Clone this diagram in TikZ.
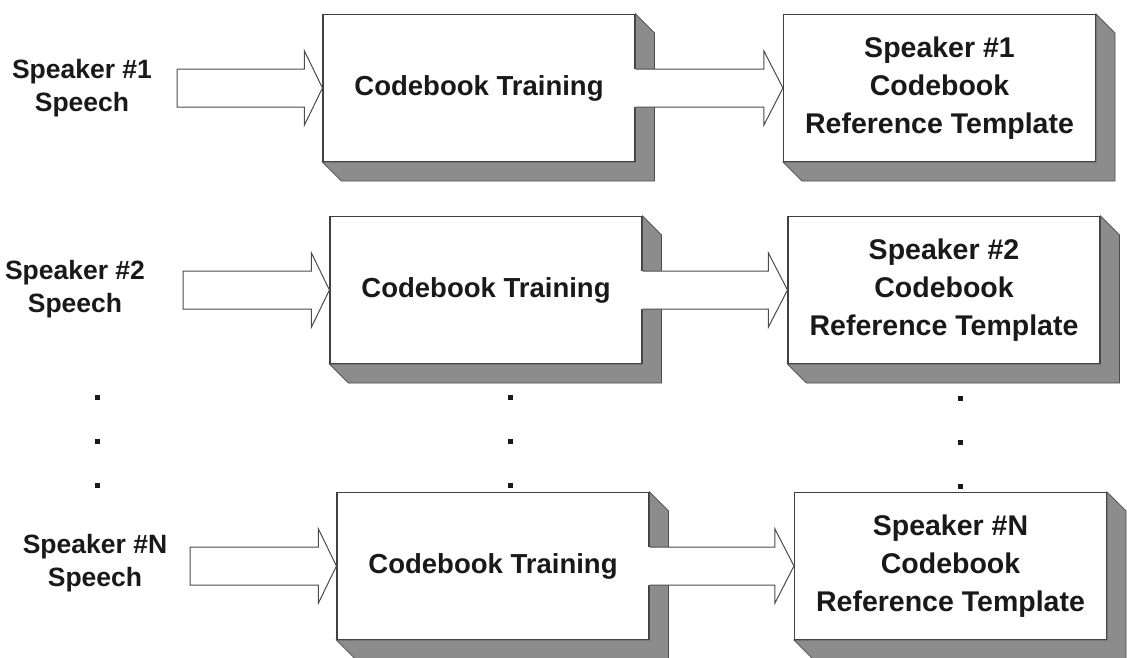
\documentclass[tikz,border=0pt]{standalone}
\usepackage{fontspec}
\setmainfont{Liberation Sans}
\usetikzlibrary{calc}

\tikzset{
  x=1pt, y=-1pt,
  box/.style={draw=black!75, line width=1.1pt, fill=white,
    minimum width=312pt, minimum height=147pt, inner sep=0pt,
    font=\bfseries\fontsize{27.5}{34}\selectfont, text=black!90},
  refbox/.style={box, align=center,
    font=\bfseries\fontsize{28.5}{38}\selectfont},
  lbl/.style={align=center, inner sep=0pt,
    font=\bfseries\fontsize{26.5}{33}\selectfont, text=black!90},
  depth/.style={fill=black!45, draw=black!70, line width=0.8pt, line join=miter},
  arrowline/.style={draw=black!70, line width=1pt, line join=miter},
  dot/.style={fill=black!90},
}

% bevelled depth below and to the right of a box node
\newcommand\boxdepth[1]{%
  \path[depth] (#1.north east) -- ++(19,19) -- ($(#1.south east)+(19,19)$)
    -- ($(#1.south west)+(19,19)$) -- (#1.south west) -- (#1.south east) -- cycle;}

% closed outlined block arrow from a point to a node anchor
\newcommand\inarrow[2]{%
  \draw[arrowline, fill=white] let \p1=(#1), \p2=(#2) in
    (\x1,\y1+19pt) -- (\x2-18pt,\y1+19pt) -- (\x2-18pt,\y1+37pt) -- (\x2,\y1)
    -- (\x2-18pt,\y1-37pt) -- (\x2-18pt,\y1-19pt) -- (\x1,\y1-19pt) -- cycle;}

% block arrow leaving a box: its tail is open and covers the box depth
\newcommand\outarrow[2]{%
  \fill[white] let \p1=(#1), \p2=(#2) in
    (\x1-1.5pt,\y1+19pt) -- (\x2-19pt,\y1+19pt) -- (\x2-19pt,\y1+37pt) -- (\x2,\y1)
    -- (\x2-19pt,\y1-37pt) -- (\x2-19pt,\y1-19pt) -- (\x1-1.5pt,\y1-19pt) -- cycle;
  \draw[arrowline] let \p1=(#1), \p2=(#2) in
    (\x1,\y1+19pt) -- (\x2-19pt,\y1+19pt) -- (\x2-19pt,\y1+37pt) -- (\x2,\y1)
    -- (\x2-19pt,\y1-37pt) -- (\x2-19pt,\y1-19pt) -- (\x1,\y1-19pt);}

\begin{document}
\begin{tikzpicture}
\useasboundingbox (0,0) rectangle (1127,657);

% training and reference template boxes
\node[box] (t1) at (479,88) {Codebook Training};
\node[box] (t2) at (486,290) {Codebook Training};
\node[box] (tN) at (493,566) {Codebook Training};
\node[refbox] (r1) at (939.5,88) {Speaker \#1\\Codebook\\Reference Template};
\node[refbox] (r2) at (944,290) {Speaker \#2\\Codebook\\Reference Template};
\node[refbox] (rN) at (950.5,566) {Speaker \#N\\Codebook\\Reference Template};

\foreach \b in {t1,t2,tN,r1,r2,rN} {\boxdepth{\b}}

% speech inputs
\node[lbl] (l1) at (82,88) {Speaker \#1\\Speech};
\node[lbl] (l2) at (75,289) {Speaker \#2\\Speech};
\node[lbl] (lN) at (95,563) {Speaker \#N\\Speech};

\coordinate (a1) at (177,88);
\coordinate (a2) at (183,290);
\coordinate (aN) at (190,566);

\inarrow{a1}{t1.west}
\inarrow{a2}{t2.west}
\inarrow{aN}{tN.west}

\outarrow{t1.east}{r1.west}
\outarrow{t2.east}{r2.west}
\outarrow{tN.east}{rN.west}

% ellipsis dots between speaker 2 and speaker N
\foreach \x/\s in {97/0,510/0,960/1} {
  \foreach \y in {397,441,485} {
    \fill[dot] ($(\x,\y+\s)+(-2.5,-2.5)$) rectangle ++(5,5);
  }
}
\end{tikzpicture}
\end{document}
